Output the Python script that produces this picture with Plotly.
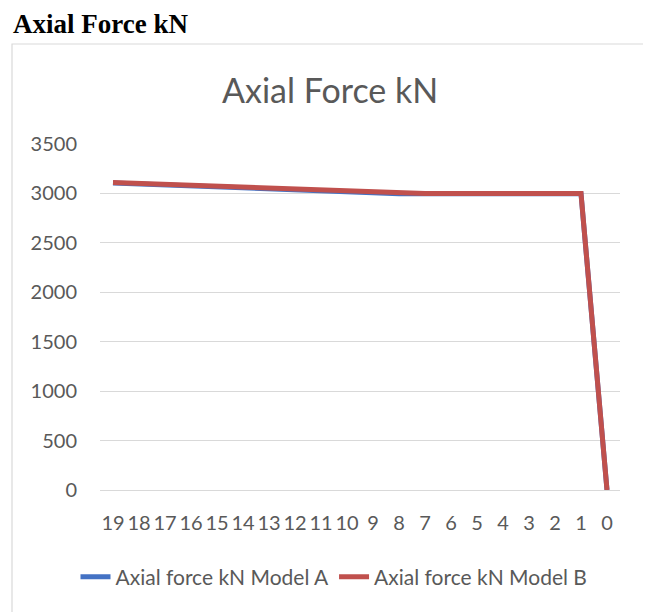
import plotly.graph_objects as go

categories = ["19", "18", "17", "16", "15", "14", "13", "12", "11", "10",
              "9", "8", "7", "6", "5", "4", "3", "2", "1", "0"]
model_a = [3105, 3095, 3085, 3075, 3065, 3055, 3045, 3035, 3025, 3015,
           3005, 2998, 2998, 2998, 2998, 2998, 2998, 2998, 2998, 0]
model_b = [3110, 3100, 3090, 3080, 3070, 3060, 3050, 3040, 3030, 3020,
           3010, 3000, 3000, 3000, 3000, 3000, 3000, 3000, 3000, 0]
y_ticks = [0, 500, 1000, 1500, 2000, 2500, 3000, 3500]

fig = go.Figure()
fig.add_trace(go.Scatter(x=categories, y=model_a, mode="lines",
                         name="Axial force kN Model A",
                         line=dict(color="#4472C4", width=5)))
fig.add_trace(go.Scatter(x=categories, y=model_b, mode="lines",
                         name="Axial force kN Model B",
                         line=dict(color="#C0504D", width=5)))

gray = "#595959"
# figure is drawn at an 8px page offset; plot area spans x 92-612, y 136-482
L, T, PW, PH = 92, 136, 520, 346
def px(x):
    return (x - L) / PW
def py(y):
    return (T + PH - y) / PH

fig.update_layout(
    width=643, height=604,
    margin=dict(l=92, r=31, t=136, b=122),
    paper_bgcolor="white", plot_bgcolor="white",
    showlegend=True,
    legend=dict(orientation="h", x=px(326), xanchor="center", y=py(569), yanchor="middle",
                font=dict(family="Lato", size=21, color=gray),
                itemwidth=30, tracegroupgap=0),
    xaxis=dict(type="category", range=[-0.5, 19.5], showgrid=False,
               tickfont=dict(family="Lato", size=20, color=gray),
               ticks="outside", ticklen=15, tickcolor="rgba(0,0,0,0)",
               showline=False, zeroline=False),
    yaxis=dict(range=[0, 3500], tickvals=y_ticks, showgrid=True,
               gridcolor="#d9d9d9", gridwidth=1.3,
               tickfont=dict(family="Lato", size=20, color=gray),
               ticks="outside", ticklen=18, tickcolor="rgba(0,0,0,0)",
               showline=False, zeroline=True, zerolinecolor="#d9d9d9", zerolinewidth=1.3),
    shapes=[dict(type="rect", xref="paper", yref="paper",
                 x0=px(4), x1=px(640), y0=py(620), y1=py(36),
                 line=dict(color="#d9d9d9", width=1.2), fillcolor="rgba(0,0,0,0)",
                 layer="below")],
    annotations=[
        dict(text="<b>Axial Force kN</b>", xref="paper", yref="paper",
             x=px(4), xanchor="left", y=py(0), yanchor="top",
             showarrow=False, font=dict(family="Liberation Serif", size=27, color="black"),
             borderpad=0),
        dict(text="Axial Force kN", xref="paper", yref="paper",
             x=px(322), xanchor="center", y=py(81), yanchor="middle",
             showarrow=False, font=dict(family="Lato", size=34, color=gray)),
    ],
)

fig.write_html("out.html")
